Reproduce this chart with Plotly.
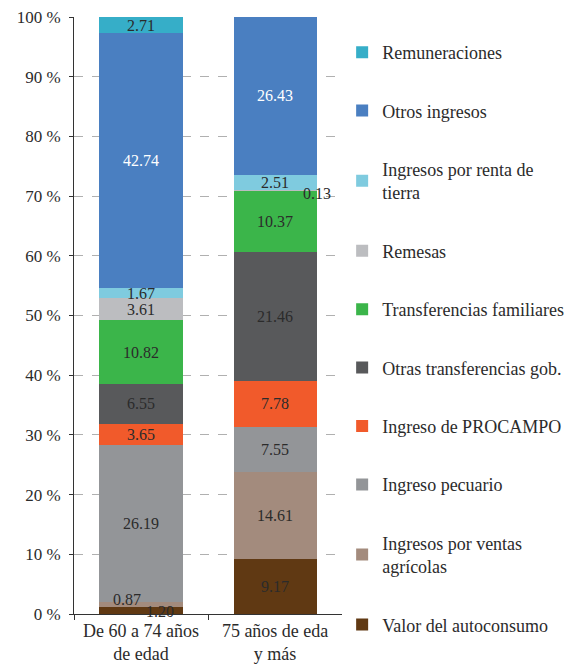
import plotly.graph_objects as go

categorias = ['De 60 a 74 años<br>de edad', '75 años de eda<br>y más']

# de abajo hacia arriba
series = [
    'Valor del autoconsumo',
    'Ingresos por ventas<br>agrícolas',
    'Ingreso pecuario',
    'Ingreso de PROCAMPO',
    'Otras transferencias gob.',
    'Transferencias familiares',
    'Remesas',
    'Ingresos por renta de<br>tierra',
    'Otros ingresos',
    'Remuneraciones',
]

autoconsumo = [1.20, 9.17]
ventas_agricolas = [0.87, 14.61]
pecuario = [26.19, 7.55]
procampo = [3.65, 7.78]
otras_transf_gob = [6.55, 21.46]
transf_familiares = [10.82, 10.37]
remesas = [3.61, 0.13]
renta_tierra = [1.67, 2.51]
otros_ingresos = [42.74, 26.43]
remuneraciones = [2.71, 0.0]

valores = [autoconsumo, ventas_agricolas, pecuario, procampo, otras_transf_gob,
           transf_familiares, remesas, renta_tierra, otros_ingresos, remuneraciones]

colores = ['#603913', '#a38b7d', '#939598', '#f15a2b', '#58595b',
           '#3bb54a', '#bcbdc0', '#7fcbdf', '#4a7fc1', '#36aec8']

fuente = 'Liberation Serif'
texto = '#2b2b2b'

fig = go.Figure()

# etiquetas pequeñas que van desplazadas fuera del centro
desplazadas = {(1, 0): (-14, 5), (0, 0): (19, -1), (6, 1): (42, -3)}

base = [0.0, 0.0]
anotaciones = []
for i, (nombre, vals, color) in enumerate(zip(series, valores, colores)):
    textos = []
    for j, v in enumerate(vals):
        if v == 0 or (i, j) in desplazadas:
            textos.append('')
        else:
            textos.append(f'{v:.2f}')
        if (i, j) in desplazadas:
            dx, dy = desplazadas[(i, j)]
            anotaciones.append(dict(
                x=categorias[j], y=base[j] + v / 2, text=f'{v:.2f}',
                showarrow=False, xshift=dx, yshift=dy,
                font=dict(family=fuente, size=16, color=texto)
            ))
        base[j] += v
    fig.add_trace(go.Bar(
        x=categorias,
        y=vals,
        name=nombre,
        marker_color=color,
        marker_line_width=0,
        text=textos,
        textposition='inside',
        insidetextanchor='middle',
        textangle=0,
        textfont=dict(family=fuente, size=16,
                      color='white' if nombre == 'Otros ingresos' else texto),
        legendgroup=str(i),
        legendrank=100 - i,
        hoverinfo='name+y',
    ))

fig.update_layout(
    barmode='stack',
    bargap=0.38,
    width=576,
    height=667,
    margin=dict(l=74, r=222, t=17, b=53),
    plot_bgcolor='white',
    paper_bgcolor='white',
    font=dict(family=fuente, size=16, color=texto),
    uniformtext=dict(minsize=16, mode='show'),
    annotations=anotaciones,
    legend=dict(
        traceorder='grouped',
        tracegroupgap=32,
        xref='container',
        yref='container',
        x=0.594,
        xanchor='left',
        y=0.949,
        yanchor='top',
        maxheight=650,
        font=dict(family=fuente, size=18, color=texto),
        itemwidth=30,
        valign='middle',
    ),
    xaxis=dict(
        automargin=False,
        showline=True,
        linecolor='#333333',
        linewidth=1,
        ticks='outside',
        tickson='boundaries',
        ticklen=5,
        tickcolor='#333333',
        tickfont=dict(family=fuente, size=18, color=texto),
    ),
    yaxis=dict(
        automargin=False,
        range=[0, 100],
        dtick=10,
        ticksuffix=' %',
        showline=True,
        linecolor='#333333',
        linewidth=1,
        ticks='outside',
        ticklen=4,
        ticklabelstandoff=5,
        tickcolor='#333333',
        showgrid=True,
        gridcolor='#b0b0b0',
        griddash='dash',
        zeroline=False,
        tickfont=dict(family=fuente, size=17, color=texto),
    ),
)

# sin el margen por defecto del body la figura ocupa justo la ventana
fig.write_html('out.html', config={'displayModeBar': False},
               post_script="document.body.style.margin='0';")
